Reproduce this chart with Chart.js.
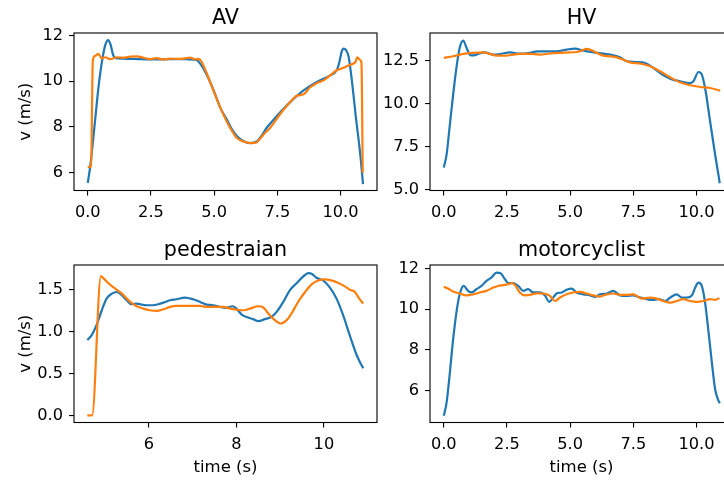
<!DOCTYPE html>
<html><head><meta charset="utf-8">
<script src="https://cdn.jsdelivr.net/npm/chart.js@4"></script>
<style>
html,body{margin:0;padding:0;background:#fff;}
#wrap{position:relative;width:724px;height:482px;overflow:hidden;background:#fff;}
canvas{position:absolute;}
</style></head><body><div id="wrap">
<canvas id="cAV" width="380" height="250" style="left:0px;top:0px"></canvas>
<canvas id="cHV" width="380" height="250" style="left:356px;top:0px"></canvas>
<canvas id="cPED" width="380" height="250" style="left:0px;top:232px"></canvas>
<canvas id="cMOTO" width="380" height="250" style="left:356px;top:232px"></canvas>
</div>
<script>
// ---------- data ----------
const titles = ['AV', 'HV', 'pedestraian', 'motorcyclist'];
const xLabel = 'time (s)';
const yLabel = 'v (m/s)';

const tTicks = [0, 2.5, 5, 7.5, 10];
const tTickLabels = ['0.0', '2.5', '5.0', '7.5', '10.0'];
const pedTTicks = [6, 8, 10];
const pedTTickLabels = ['6', '8', '10'];
const avVTicks = [6, 8, 10, 12];
const avVTickLabels = ['6', '8', '10', '12'];
const hvVTicks = [5, 7.5, 10, 12.5];
const hvVTickLabels = ['5.0', '7.5', '10.0', '12.5'];
const pedVTicks = [0, 0.5, 1, 1.5];
const pedVTickLabels = ['0.0', '0.5', '1.0', '1.5'];
const motoVTicks = [6, 8, 10, 12];
const motoVTickLabels = ['6', '8', '10', '12'];

// AV
const avTimeBlue = [0,0.1,0.2,0.3,0.4,0.5,0.6,0.7,0.8,0.9,1.0,1.1,1.4,1.7,2.0,2.5,3.0,3.5,4.0,4.3,4.6,4.84,5.05,5.24,5.5,5.7,5.9,6.15,6.42,6.69,6.9,7.08,7.48,8.0,8.54,9.06,9.59,9.85,9.95,10.05,10.12,10.22,10.32,10.42,10.51,10.61,10.71,10.81,10.89];
const avBlue = [5.55,6.3,7.3,8.4,9.5,10.4,11.1,11.6,11.79,11.6,11.15,11.0,10.98,10.97,10.96,10.95,10.95,10.96,10.95,10.92,10.5,9.96,9.4,8.84,8.33,7.9,7.6,7.38,7.29,7.36,7.65,7.96,8.47,9.07,9.59,9.96,10.25,10.47,10.8,11.3,11.42,11.35,11.07,10.3,9.44,8.4,7.51,6.5,5.5];
const avTimeOrange = [0,0.13,0.2,0.29,0.42,0.55,0.69,0.88,1.15,1.41,1.68,1.94,2.2,2.47,2.73,3.0,3.26,3.52,3.79,4.05,4.25,4.38,4.5,4.71,4.97,5.3,5.63,5.9,6.16,6.49,6.69,6.95,7.22,7.61,8.0,8.27,8.54,8.8,9.06,9.33,9.59,9.85,10.05,10.25,10.51,10.6,10.66,10.78,10.83,10.88];
const avOrange = [6.25,6.25,10.9,11.1,11.19,10.99,11.04,10.96,11.04,11.02,11.07,11.08,11.02,10.96,11.0,10.94,10.98,10.97,10.98,11.02,10.95,10.97,10.85,10.33,9.59,8.7,7.96,7.51,7.36,7.29,7.33,7.66,7.96,8.55,9.07,9.36,9.42,9.73,9.91,10.03,10.25,10.47,10.55,10.65,10.77,10.85,11.04,10.92,10.8,6.0];

// HV
const hvTimeBlue = [0,0.11,0.24,0.37,0.5,0.63,0.77,0.9,1.05,1.2,1.36,1.62,1.96,2.22,2.62,3.01,3.41,3.7,3.94,4.47,4.86,5.19,5.52,5.92,6.32,6.71,6.97,7.24,7.63,7.97,8.3,8.56,8.96,9.35,9.75,9.88,10.08,10.21,10.34,10.54,10.74,10.87,10.92];
const hvBlue = [6.3,7.03,8.78,10.52,12.07,13.24,13.66,13.24,12.82,12.8,12.89,12.98,12.85,12.88,12.98,12.9,12.95,13.04,13.04,13.04,13.14,13.2,13.08,12.98,12.9,12.81,12.69,12.46,12.42,12.36,12.07,11.78,11.45,11.3,11.2,11.3,11.84,11.69,10.91,8.97,7.03,5.87,5.39];
const hvTimeOrange = [0,0.37,0.77,1.16,1.56,1.82,2.09,2.48,2.75,3.0,3.41,3.8,4.2,4.6,4.99,5.26,5.46,5.65,5.85,6.05,6.31,6.58,6.84,7.1,7.37,7.77,8.16,8.56,8.96,9.35,9.75,10.15,10.54,10.94];
const hvOrange = [12.66,12.75,12.89,12.95,12.98,12.89,12.79,12.79,12.85,12.89,12.89,12.85,12.91,12.95,12.98,13.0,13.08,13.18,13.1,12.95,12.79,12.75,12.69,12.56,12.4,12.33,12.17,11.88,11.53,11.24,11.07,10.97,10.91,10.76];

// pedestrian
const pedTimeBlue = [4.59,4.69,4.8,4.92,5.03,5.15,5.26,5.38,5.49,5.6,5.72,5.83,5.95,6.1,6.21,6.33,6.48,6.63,6.82,7.01,7.17,7.32,7.47,7.62,7.77,7.91,8.0,8.12,8.27,8.38,8.5,8.65,8.8,8.92,9.07,9.22,9.38,9.53,9.64,9.72,9.83,9.98,10.13,10.29,10.44,10.59,10.75,10.82,10.9];
const pedBlue = [0.898,0.958,1.076,1.254,1.393,1.452,1.472,1.433,1.373,1.326,1.334,1.322,1.314,1.314,1.326,1.345,1.373,1.385,1.405,1.385,1.353,1.322,1.314,1.294,1.282,1.302,1.274,1.203,1.167,1.148,1.124,1.148,1.175,1.235,1.353,1.492,1.579,1.658,1.698,1.69,1.642,1.61,1.531,1.393,1.195,0.958,0.72,0.641,0.562];
const pedTimeOrange = [4.59,4.7,4.9,4.99,5.11,5.26,5.38,5.49,5.6,5.72,5.87,6.02,6.18,6.33,6.48,6.63,6.94,7.17,7.32,7.55,7.7,7.86,8.0,8.16,8.31,8.5,8.61,8.73,8.88,9.01,9.15,9.26,9.41,9.57,9.72,9.87,10.02,10.17,10.32,10.48,10.59,10.71,10.81,10.9];
const pedOrange = [0,0,1.662,1.619,1.559,1.5,1.452,1.393,1.342,1.302,1.274,1.254,1.247,1.266,1.294,1.306,1.306,1.306,1.294,1.294,1.294,1.274,1.262,1.254,1.274,1.302,1.29,1.215,1.136,1.096,1.136,1.215,1.353,1.472,1.563,1.61,1.622,1.61,1.583,1.539,1.5,1.472,1.393,1.334];

// motorcyclist
const motoTimeBlue = [0,0.11,0.24,0.37,0.5,0.63,0.79,0.96,1.1,1.29,1.49,1.69,1.89,2.09,2.25,2.42,2.55,2.75,2.95,3.14,3.34,3.54,3.8,4.0,4.17,4.33,4.46,4.66,4.86,5.06,5.26,5.52,5.79,5.98,6.18,6.45,6.71,6.97,7.24,7.5,7.7,7.97,8.23,8.5,8.76,8.96,9.22,9.42,9.62,9.82,9.95,10.08,10.21,10.34,10.48,10.61,10.74,10.87,10.92];
const motoBlue = [4.76,5.39,6.87,8.51,9.83,10.73,11.14,10.9,10.82,10.98,11.14,11.39,11.56,11.8,11.77,11.47,11.28,11.28,11.14,10.9,10.98,10.82,10.82,10.68,10.36,10.57,10.77,10.82,10.95,11.01,10.82,10.73,10.68,10.6,10.73,10.77,10.9,10.68,10.65,10.68,10.6,10.52,10.45,10.49,10.4,10.57,10.73,10.57,10.57,10.68,11.06,11.3,11.14,10.32,8.84,7.36,6.05,5.5,5.38];
const motoTimeOrange = [0,0.17,0.37,0.63,0.9,1.16,1.43,1.69,1.96,2.15,2.35,2.55,2.68,2.81,3.01,3.21,3.41,3.67,3.94,4.2,4.4,4.6,4.86,5.13,5.39,5.65,5.92,6.18,6.45,6.71,6.97,7.24,7.5,7.83,8.16,8.43,8.69,8.96,9.22,9.48,9.75,10.01,10.28,10.54,10.74,10.91];
const motoOrange = [11.1,11.01,10.87,10.77,10.68,10.73,10.82,10.9,11.06,11.14,11.18,11.23,11.28,11.2,10.82,10.68,10.7,10.78,10.77,10.65,10.4,10.57,10.73,10.82,10.85,10.77,10.68,10.62,10.73,10.77,10.7,10.7,10.73,10.52,10.57,10.52,10.4,10.32,10.4,10.49,10.4,10.36,10.4,10.49,10.46,10.54];

// ---------- drawing ----------
const BLUE = '#1f77b4', ORANGE = '#ff7f0e';
const FONT = '"DejaVu Sans", sans-serif';
const zip = (xs, ys) => xs.map((x, i) => ({x: x, y: ys[i]}));

const frame = {
  id: 'frame',
  afterDatasetsDraw(chart) {
    const a = chart.chartArea, c = chart.ctx;
    c.save(); c.strokeStyle = '#000'; c.lineWidth = 1.1;
    c.strokeRect(a.left, a.top, a.right - a.left, a.bottom - a.top);
    c.restore();
  }
};

function axisCommon(ticksArr, labelsArr, min, max, pad) {
  return {
    type: 'linear', min: min, max: max, bounds: 'data',
    afterBuildTicks: s => { s.ticks = ticksArr.map(v => ({value: v})); },
    ticks: {callback: (v, i) => labelsArr[i], autoSkip: false, maxRotation: 0, minRotation: 0,
            padding: pad, color: '#000', font: {family: FONT, size: 16.2}},
    grid: {drawOnChartArea: false, drawTicks: true, tickLength: 5, color: '#000', tickColor: '#000', lineWidth: 1.1, tickWidth: 1.1},
    border: {display: false}
  };
}

function build(id, o) {
  const ds = [
    {data: zip(o.tb, o.vb), borderColor: BLUE, order: 1},
    {data: zip(o.to, o.vo), borderColor: ORANGE, order: 0}
  ].map(d => Object.assign({borderWidth: 2.2, pointRadius: 0, fill: false,
      cubicInterpolationMode: 'monotone', clip: false}, d));
  const x = axisCommon(o.xt, o.xl, o.xmin, o.xmax, 7.5);
  x.position = 'bottom';
  x.afterFit = s => { s.height = 59.5; };
  x.title = {display: !!o.xlabel, text: o.xlabel || '', color: '#000',
             font: {family: FONT, size: 16.5, lineHeight: 1.2}, padding: {top: 0, bottom: 4}};
  const y = axisCommon(o.yt, o.yl, o.ymin, o.ymax, 6);
  y.position = 'left';
  y.afterFit = s => { s.width = 60; };
  y.title = {display: !!o.ylabel, text: o.ylabel || '', color: '#000',
             font: {family: FONT, size: 16.5, lineHeight: 1.2}, padding: {top: 2, bottom: 0}};
  new Chart(document.getElementById(id), {
    type: 'line',
    data: {datasets: ds},
    options: {
      responsive: false, animation: false, devicePixelRatio: 1,
      layout: {padding: {left: 14, right: 3, top: 0, bottom: 0}},
      plugins: {
        legend: {display: false}, tooltip: {enabled: false},
        title: {display: true, text: o.title, fullSize: false, color: '#000',
                font: {family: FONT, size: 20.7, weight: 'normal', lineHeight: 1.2},
                padding: {top: 6, bottom: 2.16}}
      },
      scales: {x: x, y: y}
    },
    plugins: [frame]
  });
}

build('cAV', {title: titles[0], tb: avTimeBlue, vb: avBlue, to: avTimeOrange, vo: avOrange,
  xt: tTicks, xl: tTickLabels, xmin: -0.545, xmax: 11.445,
  yt: avVTicks, yl: avVTickLabels, ymin: 5.22, ymax: 12.1, ylabel: yLabel});
build('cHV', {title: titles[1], tb: hvTimeBlue, vb: hvBlue, to: hvTimeOrange, vo: hvOrange,
  xt: tTicks, xl: tTickLabels, xmin: -0.545, xmax: 11.445,
  yt: hvVTicks, yl: hvVTickLabels, ymin: 4.97, ymax: 14.1});
build('cPED', {title: titles[2], tb: pedTimeBlue, vb: pedBlue, to: pedTimeOrange, vo: pedOrange,
  xt: pedTTicks, xl: pedTTickLabels, xmin: 4.285, xmax: 11.215,
  yt: pedVTicks, yl: pedVTickLabels, ymin: -0.085, ymax: 1.794, ylabel: yLabel, xlabel: xLabel});
build('cMOTO', {title: titles[3], tb: motoTimeBlue, vb: motoBlue, to: motoTimeOrange, vo: motoOrange,
  xt: tTicks, xl: tTickLabels, xmin: -0.545, xmax: 11.445,
  yt: motoVTicks, yl: motoVTickLabels, ymin: 4.43, ymax: 12.17, xlabel: xLabel});
</script>
</body></html>
